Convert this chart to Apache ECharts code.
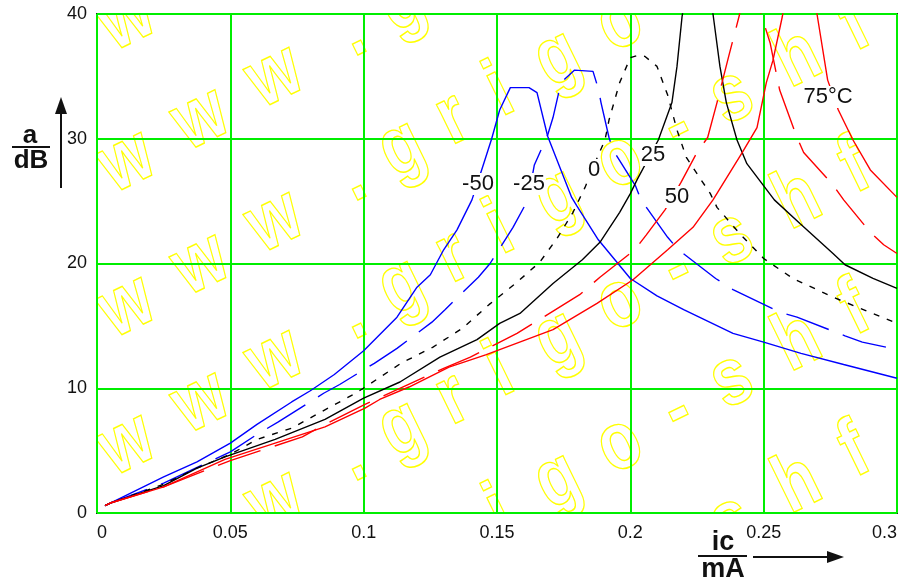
<!DOCTYPE html>
<html><head><meta charset="utf-8">
<script src="https://cdn.jsdelivr.net/npm/echarts@6/dist/echarts.min.js"></script>
<style>html,body{margin:0;padding:0;background:#fff}#c{width:900px;height:581px}</style>
</head><body><div id="c"></div>
<script>
// ---- data ----
const xTicks = [0, 0.05, 0.1, 0.15, 0.2, 0.25, 0.3];
const yTicks = [0, 10, 20, 30, 40];

const ic_m50 = [0.003,0.005,0.025,0.0375,0.05,0.06,0.073,0.08,0.089,0.1,0.1125,0.12,0.125,0.13,0.135,0.1406,0.145,0.148,0.151,0.155,0.162,0.165,0.169,0.178,0.18,0.188,0.2,0.21,0.22,0.2385,0.25,0.264,0.28,0.3];
const a_m50  = [0.6,0.8,2.9,4.1,5.6,7.1,8.9,9.8,11.1,13.0,15.7,18.1,19.1,21.1,22.7,25.1,28.0,30.0,32.3,34.1,34.1,33.7,30.2,25.3,24.6,21.9,18.8,17.4,16.3,14.4,13.7,12.8,11.9,10.8];

const ic_m25 = [0.003,0.005,0.025,0.05,0.06,0.068,0.085,0.091,0.104,0.1125,0.1256,0.1305,0.143,0.1474,0.156,0.1616,0.164,0.169,0.171,0.174,0.179,0.186,0.188,0.189,0.192,0.1935,0.202,0.204,0.214,0.218,0.232,0.2385,0.256,0.2625,0.2805,0.287,0.3];
const a_m25  = [0.6,0.8,2.4,4.9,6.3,7.3,9.6,10.3,12.0,13.2,15.3,16.3,18.9,20.0,22.9,25.1,27.9,30.3,31.7,34.5,35.5,35.4,34.0,32.9,30.1,29.1,26.2,25.1,22.1,21.1,18.8,17.9,16.1,15.7,14.2,13.7,13.1];

const ic_0 = [0.003,0.005,0.025,0.0375,0.05,0.06,0.073,0.084,0.097,0.102,0.114,0.126,0.137,0.147,0.1575,0.166,0.1725,0.1785,0.183,0.188,0.1905,0.192,0.196,0.2,0.203,0.2055,0.21,0.214,0.2175,0.221,0.225,0.23,0.2325,0.241,0.25,0.261,0.276,0.3];
const a_0  = [0.6,0.8,2.3,3.6,4.7,5.9,6.8,8.1,9.6,10.3,12.0,13.3,14.8,16.7,18.5,20.1,22.0,24.1,26.1,28.7,29.9,31.5,34.5,36.5,36.7,36.6,35.8,33.5,30.7,28.5,27.2,25.6,24.5,22.4,20.4,18.8,17.3,15.2];

const ic_25 = [0.003,0.005,0.025,0.0375,0.048,0.0668,0.0855,0.1,0.1136,0.1286,0.1425,0.151,0.1586,0.171,0.182,0.1886,0.196,0.2,0.2025,0.2105,0.2156,0.2175,0.2194,0.225,0.231,0.2336,0.236,0.24,0.2437,0.254,0.2636,0.276,0.2805,0.291,0.3];
const a_25  = [0.6,0.8,2.2,3.6,4.5,5.9,7.5,9.2,10.5,12.5,13.9,15.2,16.0,18.4,20.3,21.7,24.1,25.6,26.7,29.9,32.9,35.8,39.8,47,40,35.8,32.9,29.9,28.0,25.1,23.2,20.8,19.9,18.8,18.0];

const ic_50 = [0.003,0.005,0.025,0.05,0.077,0.0855,0.1005,0.13,0.14,0.1575,0.1636,0.181,0.1886,0.2017,0.206,0.213,0.219,0.225,0.229,0.2325,0.237,0.241,0.245,0.249,0.2524,0.256,0.2625,0.265,0.276,0.28,0.29,0.295,0.3];
const a_50  = [0.6,0.8,2.1,4.2,6.1,7.1,8.7,11.6,12.5,14.4,15.2,17.5,18.9,21.1,22.3,24.3,26.5,28.9,30.1,32.9,36.7,40,46,40,37.7,33.9,30.1,28.9,26.3,25.1,22.5,21.5,20.8];

const ic_75 = [0.003,0.005,0.025,0.048,0.0668,0.0855,0.1005,0.106,0.117,0.132,0.146,0.161,0.171,0.1875,0.201,0.214,0.2235,0.231,0.242,0.2475,0.251,0.2535,0.257,0.2635,0.27,0.274,0.278,0.2835,0.29,0.3];
const a_75  = [0.6,0.8,2.1,4.3,5.6,6.9,8.4,9.1,10.1,11.7,12.7,13.9,14.7,16.8,18.7,21.1,22.9,25.1,28.9,30.9,34.5,36.3,39.8,48,40,34.7,32.3,29.9,27.5,25.3];

const curveNames = ['-50','-25','0','25','50','75°C'];
const watermarkText = 'www.grigo-shf';

// ---- build ----
const zip = (xs, ys) => xs.map((x, i) => [x, ys[i]]);
const lineSeries = (name, xs, ys, color, type) => ({
  name, type: 'line', data: zip(xs, ys), symbol: 'none', smooth: false, clip: true, z: 3,
  lineStyle: { color, width: 1.4, type }, animation: false, silent: true
});

const wmRows = [6, 148, 293, 431, 573, 715, 857];
const wmDx = [0, 74, 148, 225, 275, 326, 373, 431, 493, 551, 605, 671, 728];

function renderWatermark(params, api) {
  const o = api.coord([0, 40]);
  const children = [];
  wmRows.forEach(ry => {
    for (let k = 0; k < watermarkText.length; k++) {
      children.push({
        type: 'text',
        x: o[0] + 30 + wmDx[k], y: o[1] + ry - 0.575 * wmDx[k],
        rotation: 26 * Math.PI / 180, scaleX: 0.8,
        style: { text: watermarkText[k], font: 'bold 82px "Liberation Sans"',
          fill: 'rgba(0,0,0,0)', stroke: '#ffff00', lineWidth: 1.4, strokeNoScale: true,
          align: 'center', verticalAlign: 'middle' }
      });
    }
  });
  return { type: 'group', children };
}

const chart = echarts.init(document.getElementById('c'), null, { renderer: 'canvas' });
const labelFont = '22px "Liberation Sans"';
const lbl = (text, x, y) => ({ type: 'text', x, y, z: 100,
  style: { text, font: labelFont, fill: '#111', align: 'center', verticalAlign: 'middle',
    backgroundColor: '#fff', padding: [0, 1] } });

chart.setOption({
  animation: false,
  backgroundColor: '#fff',
  grid: { left: 97, right: 3, top: 14, bottom: 68, show: true, borderColor: '#222', borderWidth: 2, backgroundColor: 'rgba(0,0,0,0)' },
  xAxis: {
    type: 'value', min: 0, max: 0.3, interval: 0.05,
    axisLine: { show: false }, axisTick: { show: false },
    splitLine: { show: true, lineStyle: { color: '#00ee00', width: 2 } },
    axisLabel: { color: '#111', fontSize: 18, fontFamily: 'Liberation Sans', margin: 11,
      alignMinLabel: 'left', alignMaxLabel: 'right',
      formatter: v => String(+v.toFixed(2)) }
  },
  yAxis: {
    type: 'value', min: 0, max: 40, interval: 10,
    axisLine: { show: false }, axisTick: { show: false },
    splitLine: { show: true, lineStyle: { color: '#00ee00', width: 2 } },
    axisLabel: { color: '#111', fontSize: 18, fontFamily: 'Liberation Sans', margin: 10 }
  },
  series: [
    { type: 'custom', data: [[0, 0]], renderItem: renderWatermark, clip: true, silent: true, z: -1 },
    lineSeries(curveNames[0], ic_m50, a_m50, '#0000ff', 'solid'),
    lineSeries(curveNames[1], ic_m25, a_m25, '#0000ff', [45, 15]),
    lineSeries(curveNames[2], ic_0, a_0, '#000000', [6, 8]),
    lineSeries(curveNames[3], ic_25, a_25, '#000000', 'solid'),
    lineSeries(curveNames[4], ic_50, a_50, '#ff0000', [45, 15]),
    lineSeries(curveNames[5], ic_75, a_75, '#ff0000', 'solid')
  ],
  graphic: [
    lbl(curveNames[0], 478, 184),
    lbl(curveNames[1], 529, 184),
    lbl(curveNames[2], 594, 170),
    lbl(curveNames[3], 653, 155),
    lbl(curveNames[4], 677, 197),
    lbl(curveNames[5], 828, 97),
    // y axis name: a / dB with up arrow
    { type: 'text', x: 30, y: 136, style: { text: 'a', font: 'bold 26px "Liberation Sans"', fill: '#111', align: 'center', verticalAlign: 'middle' } },
    { type: 'line', shape: { x1: 12, y1: 147, x2: 50, y2: 147 }, style: { stroke: '#111', lineWidth: 2 } },
    { type: 'text', x: 31, y: 161, style: { text: 'dB', font: 'bold 26px "Liberation Sans"', fill: '#111', align: 'center', verticalAlign: 'middle' } },
    { type: 'line', shape: { x1: 61, y1: 188, x2: 61, y2: 108 }, style: { stroke: '#111', lineWidth: 2 } },
    { type: 'polygon', shape: { points: [[61, 97], [55, 114], [67, 114]] }, style: { fill: '#111' } },
    // x axis name: ic / mA with right arrow
    { type: 'text', x: 723, y: 543, style: { text: 'ic', font: 'bold 27px "Liberation Sans"', fill: '#111', align: 'center', verticalAlign: 'middle' } },
    { type: 'line', shape: { x1: 698, y1: 556, x2: 747, y2: 556 }, style: { stroke: '#111', lineWidth: 2 } },
    { type: 'text', x: 723, y: 570, style: { text: 'mA', font: 'bold 27px "Liberation Sans"', fill: '#111', align: 'center', verticalAlign: 'middle' } },
    { type: 'line', shape: { x1: 753, y1: 557, x2: 832, y2: 557 }, style: { stroke: '#111', lineWidth: 2 } },
    { type: 'polygon', shape: { points: [[844, 557], [827, 551], [827, 563]] }, style: { fill: '#111' } }
  ]
});
</script></body></html>
